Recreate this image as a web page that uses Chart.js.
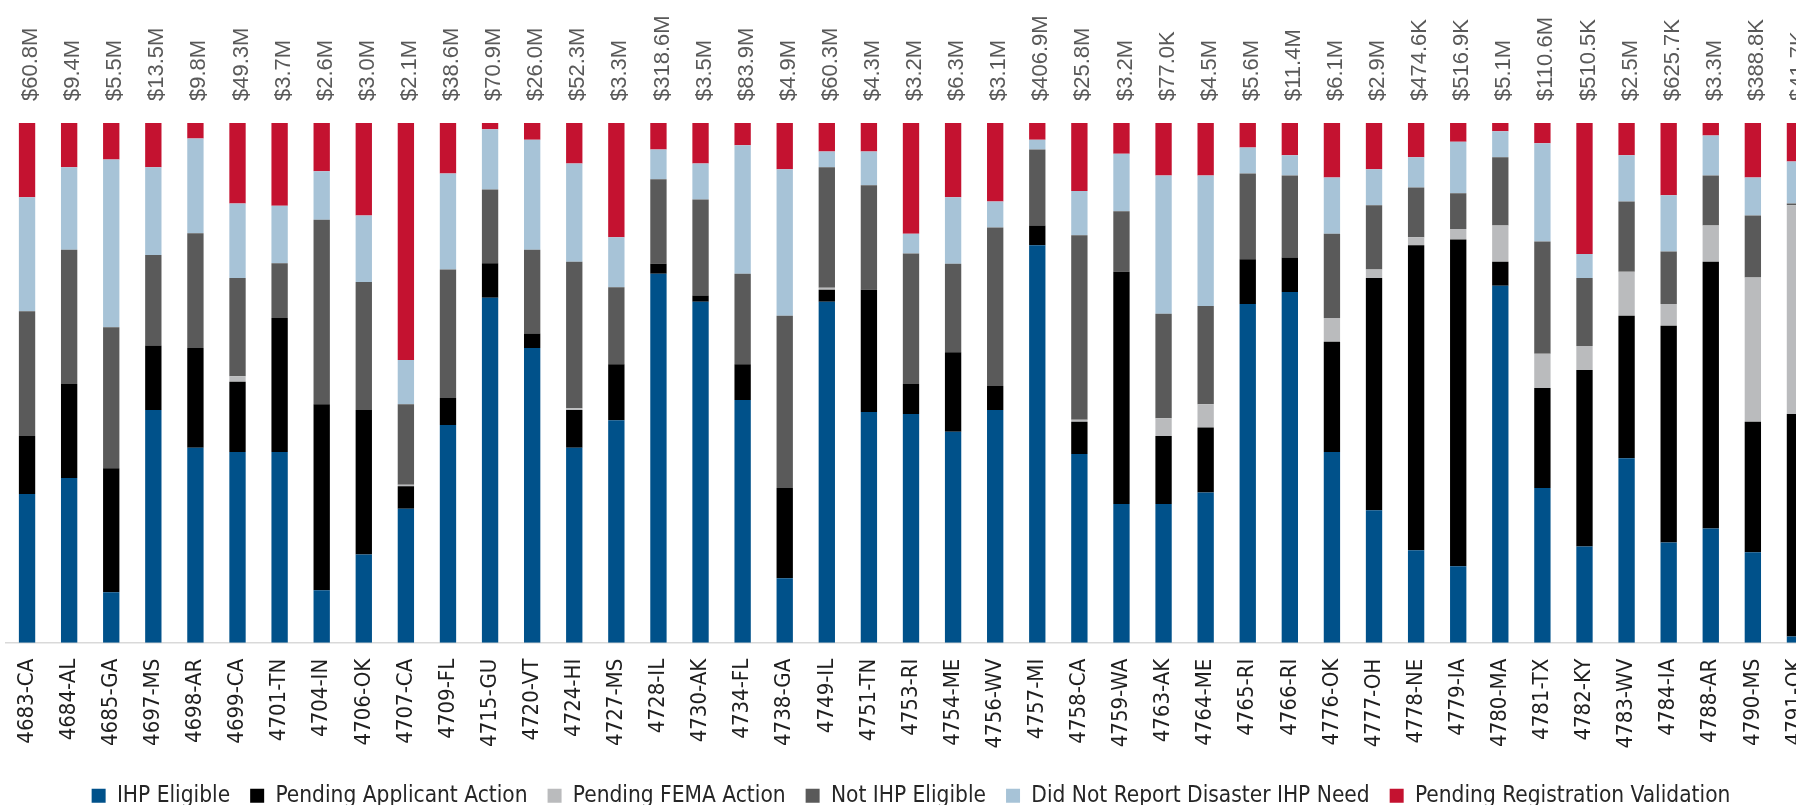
<!DOCTYPE html>
<html>
<head>
<meta charset="utf-8">
<title>IHP status by disaster</title>
<script src="https://cdn.jsdelivr.net/npm/chart.js@4.4.1/dist/chart.umd.min.js"></script>
<style>
  html, body { margin: 0; padding: 0; background: #fff; overflow: hidden; }
  /* el gráfico sigue más allá del borde derecho, como en el original */
  #wrap { width: 1796px; height: 805px; overflow: hidden; position: relative; }
  #box { position: absolute; left: 0; top: 0; width: 1840px; height: 817px; }
</style>
</head>
<body>
<div id="wrap"><div id="box"><canvas id="chart"></canvas></div></div>
<script>
// ===============================
// Datos
// ===============================
const disasters = ['4683-CA', '4684-AL', '4685-GA', '4697-MS', '4698-AR', '4699-CA', '4701-TN', '4704-IN', '4706-OK', '4707-CA',
  '4709-FL', '4715-GU', '4720-VT', '4724-HI', '4727-MS', '4728-IL', '4730-AK', '4734-FL', '4738-GA', '4749-IL',
  '4751-TN', '4753-RI', '4754-ME', '4756-WV', '4757-MI', '4758-CA', '4759-WA', '4763-AK', '4764-ME', '4765-RI',
  '4766-RI', '4776-OK', '4777-OH', '4778-NE', '4779-IA', '4780-MA', '4781-TX', '4782-KY', '4783-WV', '4784-IA',
  '4788-AR', '4790-MS', '4791-OK'];

const totalLabels = ['$60.8M', '$9.4M', '$5.5M', '$13.5M', '$9.8M', '$49.3M', '$3.7M', '$2.6M', '$3.0M', '$2.1M',
  '$38.6M', '$70.9M', '$26.0M', '$52.3M', '$3.3M', '$318.6M', '$3.5M', '$83.9M', '$4.9M', '$60.3M',
  '$4.3M', '$3.2M', '$6.3M', '$3.1M', '$406.9M', '$25.8M', '$3.2M', '$77.0K', '$4.5M', '$5.6M',
  '$11.4M', '$6.1M', '$2.9M', '$474.6K', '$516.9K', '$5.1M', '$110.6M', '$510.5K', '$2.5M', '$625.7K',
  '$3.3M', '$388.8K', '$41.7K'];

// porcentajes (de abajo hacia arriba en cada barra)
const ihpEligible = [28.6, 31.7, 9.7, 44.8, 37.5, 36.7, 36.7, 10.1, 17.0, 25.8,
  41.9, 66.4, 56.7, 37.5, 42.8, 71.0, 65.6, 46.7, 12.4, 65.6,
  44.4, 44.0, 40.6, 44.8, 76.5, 36.3, 26.7, 26.7, 28.9, 65.2,
  67.5, 36.7, 25.5, 17.8, 14.7, 68.7, 29.8, 18.5, 35.5, 19.3,
  22.0, 17.4, 1.2];
const pendingApplicant = [11.2, 18.1, 23.9, 12.4, 19.2, 13.5, 25.8, 35.8, 27.8, 4.3,
  5.2, 6.6, 2.8, 7.3, 10.8, 1.9, 1.2, 6.9, 17.4, 2.3,
  23.5, 5.8, 15.3, 4.6, 3.8, 6.2, 44.7, 13.1, 12.5, 8.6,
  6.6, 21.2, 44.7, 58.7, 62.9, 4.6, 19.2, 34.0, 27.4, 41.7,
  51.3, 25.1, 42.8];
const pendingFema = [0, 0, 0, 0, 0, 1.1, 0, 0, 0, 0.3,
  0, 0, 0, 0.3, 0, 0, 0, 0, 0, 0.4,
  0, 0, 0, 0, 0, 0.4, 0, 3.4, 4.5, 0,
  0, 4.6, 1.6, 1.5, 2.0, 7.0, 6.6, 4.6, 8.5, 4.2,
  7.0, 27.8, 40.2];
const notEligible = [24.0, 25.8, 27.1, 17.4, 22.1, 18.9, 10.5, 35.5, 24.6, 15.5,
  24.7, 14.2, 16.1, 28.2, 14.8, 16.3, 18.5, 17.4, 33.1, 23.2,
  20.1, 25.1, 17.0, 30.5, 14.6, 35.5, 11.6, 20.1, 18.9, 16.5,
  15.8, 16.2, 12.4, 9.6, 6.9, 13.1, 21.6, 13.1, 13.5, 10.1,
  9.6, 11.9, 0.3];
const didNotReport = [21.9, 15.9, 32.3, 16.9, 18.2, 14.3, 11.1, 9.3, 12.8, 8.5,
  18.5, 11.6, 21.2, 18.9, 9.6, 5.7, 6.9, 24.7, 28.2, 3.0,
  6.5, 3.8, 12.8, 5.0, 1.9, 8.5, 11.1, 26.6, 25.1, 5.0,
  3.9, 10.8, 6.9, 5.8, 9.9, 5.0, 18.9, 4.6, 8.9, 10.8,
  7.7, 7.3, 8.1];
const pendingValidation = [14.3, 8.5, 7.0, 8.5, 3.0, 15.5, 15.9, 9.3, 17.8, 45.6,
  9.7, 1.2, 3.2, 7.8, 22.0, 5.1, 7.8, 4.3, 8.9, 5.5,
  5.5, 21.3, 14.3, 15.1, 3.2, 13.1, 5.9, 10.1, 10.1, 4.7,
  6.2, 10.5, 8.9, 6.6, 3.6, 1.6, 3.9, 25.2, 6.2, 13.9,
  2.4, 10.5, 7.4];

const condensedFont = "'DejaVu Sans Condensed', 'Liberation Sans Narrow', sans-serif";

// ===============================
// Etiquetas de total encima de cada barra
// ===============================
const totalsPlugin = {
  id: 'totals',
  afterDatasetsDraw(chart) {
    const ctx = chart.ctx;
    const xScale = chart.scales.x;
    const top = chart.chartArea.top;
    ctx.save();
    ctx.font = "22px 'Liberation Sans', Arial, sans-serif";
    ctx.fillStyle = '#595959';
    ctx.textAlign = 'left';
    ctx.textBaseline = 'middle';
    totalLabels.forEach((label, i) => {
      const x = xScale.getPixelForValue(i) + 4;
      ctx.save();
      ctx.translate(x, top - 22);
      ctx.rotate(-Math.PI / 2);
      ctx.fillText(label, 0, 0);
      ctx.restore();
    });
    ctx.restore();
  }
};

function serie(label, data, color) {
  return {
    label: label,
    data: data,
    backgroundColor: color,
    borderWidth: 0,
    barPercentage: 0.97,
    categoryPercentage: 0.4
  };
}

const ctx = document.getElementById('chart').getContext('2d');
const chart = new Chart(ctx, {
  type: 'bar',
  data: {
    labels: disasters,
    datasets: [
      serie('IHP Eligible', ihpEligible, '#00518A'),
      serie('Pending Applicant Action', pendingApplicant, '#000000'),
      serie('Pending FEMA Action', pendingFema, '#BABBBD'),
      serie('Not IHP Eligible', notEligible, '#5A5A5A'),
      serie('Did Not Report Disaster IHP Need', didNotReport, '#A7C3D7'),
      serie('Pending Registration Validation', pendingValidation, '#C41230')
    ]
  },
  options: {
    responsive: true,
    maintainAspectRatio: false,
    animation: false,
    layout: {
      padding: { top: 123, left: 6, right: 24, bottom: 0 }
    },
    plugins: {
      legend: {
        position: 'bottom',
        labels: {
          boxWidth: 14,
          boxHeight: 14,
          padding: 20,
          color: '#262626',
          font: { family: condensedFont, size: 22.5 }
        }
      },
      tooltip: { enabled: false }
    },
    scales: {
      x: {
        stacked: true,
        grid: { display: false, drawTicks: false },
        border: { display: true, color: '#d9d9d9', width: 1.5 },
        ticks: {
          autoSkip: false,
          minRotation: 90,
          maxRotation: 90,
          padding: 16,
          color: '#1f1f1f',
          font: { family: condensedFont, size: 22 }
        }
      },
      y: {
        stacked: true,
        display: false,
        min: 0,
        max: 100
      }
    }
  },
  plugins: [totalsPlugin]
});
</script>
</body>
</html>
